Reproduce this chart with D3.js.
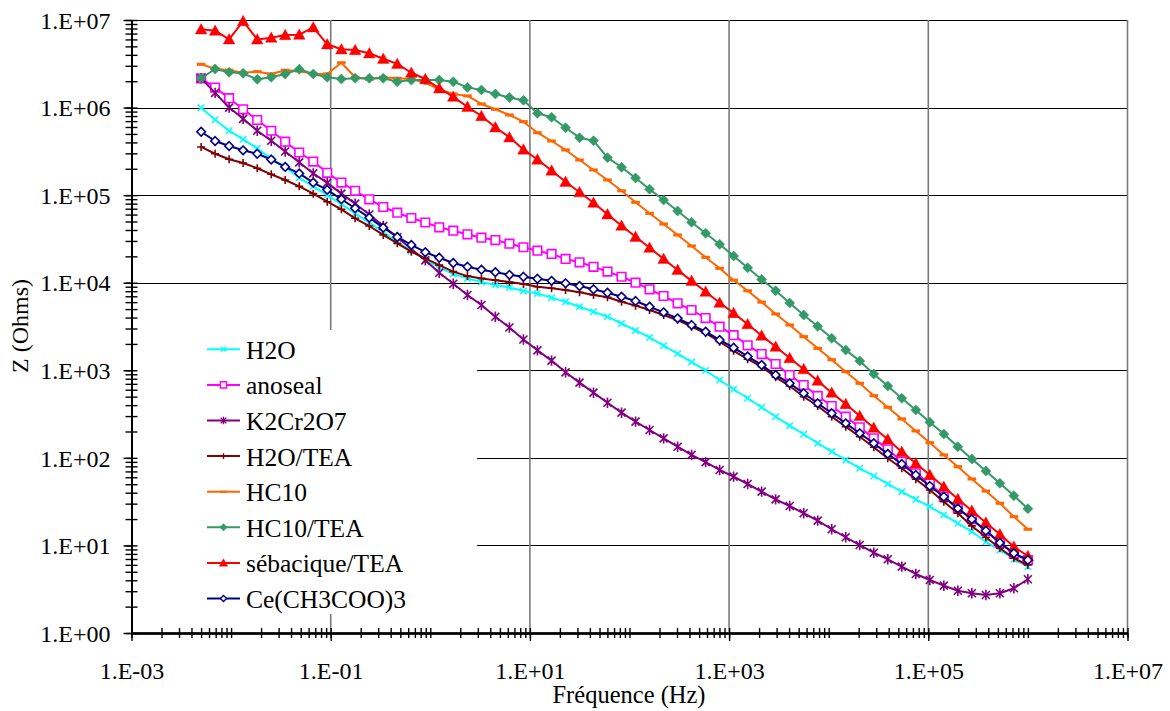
<!DOCTYPE html>
<html><head><meta charset="utf-8">
<script src="https://cdn.jsdelivr.net/npm/d3@7"></script>
<style>
body{margin:0;background:#fff}
svg{display:block}
text{font-family:"Liberation Serif","Times New Roman",serif;fill:#000}
</style>
</head><body>
<svg id="chart" width="1170" height="711"></svg>
<script>
// ---------- DATA ----------
const freq = [0.005, 0.00691, 0.00955, 0.0132, 0.0183, 0.0253, 0.0349, 0.0483, 0.0668, 0.0923,
  0.128, 0.176, 0.244, 0.337, 0.466, 0.645, 0.891, 1.23, 1.70, 2.36,
  3.26, 4.50, 6.23, 8.61, 11.9, 16.5, 22.8, 31.5, 43.5, 60.1,
  83.2, 115, 159, 220, 304, 420, 581, 803, 1110, 1535,
  2122, 2934, 4057, 5609, 7755, 10722, 14825, 20497, 28340, 39183,
  54175, 74903, 103562, 143187, 197972, 273719, 378449, 523253, 723462, 1000000];

const h2o = [9.94e5, 7.27e5, 5.44e5, 4.34e5, 3.43e5, 2.60e5, 2.10e5, 1.58e5, 1.26e5, 1.00e5,
  7.92e4, 6.17e4, 4.85e4, 3.80e4, 2.92e4, 2.30e4, 1.84e4, 1.49e4, 1.26e4, 1.12e4,
  1.02e4, 9.42e3, 8.82e3, 8.04e3, 7.53e3, 6.75e3, 6.07e3, 5.32e3, 4.67e3, 4.09e3,
  3.42e3, 2.85e3, 2.37e3, 1.91e3, 1.55e3, 1.24e3, 995, 775, 607, 479,
  378, 295, 233, 186, 147, 118, 94.5, 76.0, 62.1, 50.3,
  41.1, 33.6, 27.7, 22.3, 17.9, 14.4, 11.0, 8.87, 6.95, 5.72];

const anoseal = [2.16e6, 1.69e6, 1.28e6, 9.55e5, 7.21e5, 5.44e5, 4.08e5, 3.07e5, 2.42e5, 1.80e5,
  1.39e5, 1.12e5, 8.96e4, 7.32e4, 6.30e4, 5.48e4, 4.87e4, 4.29e4, 3.93e4, 3.57e4,
  3.27e4, 3.07e4, 2.79e4, 2.54e4, 2.32e4, 2.13e4, 1.87e4, 1.71e4, 1.52e4, 1.34e4,
  1.17e4, 1.00e4, 8.41e3, 7.05e3, 5.82e3, 4.88e3, 3.95e3, 3.15e3, 2.52e3, 1.93e3,
  1.53e3, 1.18e3, 883, 679, 509, 391, 295, 223, 167, 125,
  90, 66.6, 51.2, 36.0, 26.5, 19.9, 14.7, 10.7, 7.98, 6.8];

const k2cr2o7 = [2.16e6, 1.47e6, 1.00e6, 7.44e5, 5.44e5, 4.18e5, 3.15e5, 2.37e5, 1.77e5, 1.38e5,
  1.04e5, 7.99e4, 6.01e4, 4.44e4, 3.30e4, 2.43e4, 1.80e4, 1.30e4, 9.74e3, 7.24e3,
  5.57e3, 4.09e3, 3.08e3, 2.25e3, 1.69e3, 1.29e3, 948, 722, 555, 426,
  328, 259, 208, 167, 134, 108, 89.3, 72.7, 61.0, 50.3,
  41.1, 33.6, 28.2, 23.3, 19.2, 15.3, 12.4, 10.1, 8.26, 6.95,
  5.72, 4.72, 4.03, 3.47, 3.04, 2.84, 2.72, 2.84, 3.24, 4.11];

const h2oTea = [3.55e5, 2.97e5, 2.57e5, 2.33e5, 2.03e5, 1.73e5, 1.49e5, 1.26e5, 1.04e5, 8.42e4,
  6.89e4, 5.44e4, 4.44e4, 3.51e4, 2.82e4, 2.26e4, 1.90e4, 1.59e4, 1.34e4, 1.19e4,
  1.12e4, 1.07e4, 1.02e4, 9.67e3, 9.01e3, 8.64e3, 8.26e3, 7.77e3, 7.24e3, 6.81e3,
  6.07e3, 5.47e3, 4.88e3, 4.28e3, 3.75e3, 3.15e3, 2.65e3, 2.12e3, 1.67e3, 1.34e3,
  1.10e3, 832, 662, 499, 391, 295, 227, 174, 132, 98.9,
  76.0, 56.9, 43.0, 31.6, 23.3, 16.7, 12.4, 9.28, 7.13, 5.98];

const hc10 = [3.12e6, 2.78e6, 2.67e6, 2.50e6, 2.57e6, 2.42e6, 2.67e6, 2.62e6, 2.42e6, 2.42e6,
  3.25e6, 2.22e6, 2.10e6, 2.22e6, 2.16e6, 2.12e6, 1.92e6, 1.62e6, 1.43e6, 1.36e6,
  1.10e6, 9.56e5, 8.23e5, 6.90e5, 5.16e5, 4.15e5, 3.28e5, 2.52e5, 1.94e5, 1.49e5,
  1.12e5, 8.28e4, 6.20e4, 4.68e4, 3.51e4, 2.63e4, 1.95e4, 1.46e4, 1.07e4, 8.10e3,
  6.00e3, 4.40e3, 3.29e3, 2.42e3, 1.78e3, 1.32e3, 964, 710, 513, 378,
  278, 203, 149, 108, 79.3, 57.4, 41.8, 30.3, 21.3, 15.3];

const hc10Tea = [2.16e6, 2.76e6, 2.53e6, 2.46e6, 2.10e6, 2.22e6, 2.42e6, 2.74e6, 2.42e6, 2.22e6,
  2.12e6, 2.16e6, 2.16e6, 2.16e6, 1.97e6, 2.06e6, 2.06e6, 2.06e6, 1.97e6, 1.70e6,
  1.59e6, 1.43e6, 1.30e6, 1.21e6, 8.60e5, 7.76e5, 5.89e5, 4.53e5, 4.19e5, 2.68e5,
  2.08e5, 1.57e5, 1.17e5, 8.80e4, 6.59e4, 4.90e4, 3.67e4, 2.75e4, 2.02e4, 1.48e4,
  1.09e4, 8.10e3, 5.87e3, 4.28e3, 3.18e3, 2.32e3, 1.70e3, 1.28e3, 907, 662,
  479, 352, 255, 187, 134, 97, 70.8, 51.2, 37.0, 26.3];

const sebacique = [7.83e6, 7.55e6, 6.02e6, 9.70e6, 6.00e6, 6.28e6, 6.74e6, 6.79e6, 8.25e6, 5.28e6,
  4.63e6, 4.54e6, 4.17e6, 3.61e6, 3.15e6, 2.50e6, 2.12e6, 1.66e6, 1.33e6, 1.02e6,
  8.01e5, 5.95e5, 4.58e5, 3.32e5, 2.55e5, 1.91e5, 1.42e5, 1.08e5, 8.20e4, 6.04e4,
  4.48e4, 3.35e4, 2.51e4, 1.87e4, 1.40e4, 1.05e4, 7.90e3, 5.91e3, 4.51e3, 3.36e3,
  2.49e3, 1.86e3, 1.38e3, 1.03e3, 760, 555, 412, 301, 221, 163,
  117, 86.6, 63.7, 46.8, 33.9, 24.9, 18.2, 13.4, 9.67, 7.57];

const ceAcetate = [5.30e5, 4.15e5, 3.64e5, 3.25e5, 2.97e5, 2.55e5, 2.10e5, 1.77e5, 1.39e5, 1.15e5,
  8.97e4, 7.08e4, 5.53e4, 4.25e4, 3.33e4, 2.70e4, 2.23e4, 1.93e4, 1.68e4, 1.52e4,
  1.41e4, 1.32e4, 1.23e4, 1.17e4, 1.11e4, 1.05e4, 9.85e3, 9.18e3, 8.41e3, 7.69e3,
  6.92e3, 6.18e3, 5.32e3, 4.59e3, 3.92e3, 3.29e3, 2.76e3, 2.22e3, 1.81e3, 1.44e3,
  1.15e3, 884, 710, 546, 420, 323, 248, 191, 147, 111,
  85.1, 63.7, 47.7, 36.0, 26.5, 19.9, 14.7, 10.7, 8.13, 6.82];

const seriesNames = ["H2O", "anoseal", "K2Cr2O7", "H2O/TEA", "HC10", "HC10/TEA", "sébacique/TEA", "Ce(CH3COO)3"];
const xTickValues = [1e-3, 1e-1, 1e1, 1e3, 1e5, 1e7];
const xTickLabels = ["1.E-03", "1.E-01", "1.E+01", "1.E+03", "1.E+05", "1.E+07"];
const yTickValues = [1e0, 1e1, 1e2, 1e3, 1e4, 1e5, 1e6, 1e7];
const yTickLabels = ["1.E+00", "1.E+01", "1.E+02", "1.E+03", "1.E+04", "1.E+05", "1.E+06", "1.E+07"];
const xTitle = "Fréquence (Hz)";
const yTitle = "Z (Ohms)";

// ---------- STYLES ----------
const seriesValues = [h2o, anoseal, k2cr2o7, h2oTea, hc10, hc10Tea, sebacique, ceAcetate];
const styles = [
  {color:"#00FFFF", marker:"x",        s:3.2, fill:"none",    sw:1.5},
  {color:"#FF00FF", marker:"square",   s:4.3, fill:"#FFFFFF", sw:1.6},
  {color:"#800080", marker:"star",     s:4.0, fill:"none",    sw:1.6},
  {color:"#800000", marker:"plus",     s:4.0, fill:"none",    sw:1.6},
  {color:"#FF6600", marker:"dash",     s:4.3, fill:"#FF6600", sw:0},
  {color:"#339966", marker:"diamond",  s:5.0, fill:"#339966", sw:0.6},
  {color:"#FF0000", marker:"triangle", s:5.8, fill:"#FF0000", sw:0.4},
  {color:"#000080", marker:"diamond",  s:4.3, fill:"#FFFFFF", sw:1.6}
];
const markerPath = {
  x: s => `M${-s},${-s}L${s},${s}M${-s},${s}L${s},${-s}`,
  square: s => `M${-s},${-s}H${s}V${s}H${-s}Z`,
  star: s => `M${-s},${-s}L${s},${s}M${-s},${s}L${s},${-s}M0,${-s*1.3}V${s*1.3}`,
  plus: s => `M${-s},0H${s}M0,${-s}V${s}`,
  dash: s => `M${-s},${-s*0.36}H${s}V${s*0.36}H${-s}Z`,
  diamond: s => `M0,${-s}L${s},0L0,${s}L${-s},0Z`,
  triangle: s => `M0,${-s}L${s},${s*0.8}L${-s},${s*0.8}Z`
};

// ---------- CHART ----------
const svg = d3.select("#chart");
const x = d3.scaleLog().domain([1e-3, 1e7]).range([131.5, 1127.5]);
const y = d3.scaleLog().domain([1, 1e7]).range([633, 20]);
const X0 = x.range()[0], X1 = x.range()[1], Y0 = y.range()[0], Y1 = y.range()[1];

// grid
const grid = svg.append("g");
grid.selectAll("line.h").data(yTickValues.slice(1)).join("line")
  .attr("x1", X0).attr("x2", X1)
  .attr("y1", d => Math.round(y(d)) + 0.5).attr("y2", d => Math.round(y(d)) + 0.5)
  .attr("stroke", "#000").attr("stroke-width", 1);
grid.selectAll("line.v").data(xTickValues.slice(1)).join("line")
  .attr("x1", d => x(d)).attr("x2", d => x(d))
  .attr("y1", Y1).attr("y2", Y0)
  .attr("stroke", "#7a7a7a").attr("stroke-width", 1.6);

// legend background (covers grid)
svg.append("rect").attr("x", X0 + 2).attr("y", 330).attr("width", 477 - X0 - 2).attr("height", 284)
  .attr("fill", "#fff");

// minor ticks: every 1..9 x 10^n
const minorX = x.ticks(40).filter(d => d >= 1e-3 && d <= 1e7);
const minorY = y.ticks(40).filter(d => d >= 1 && d <= 1e7);

const gxDown = svg.append("g").attr("transform", `translate(0,${Y0})`)
  .call(d3.axisBottom(x).tickValues(minorX).tickSizeInner(5).tickSizeOuter(0).tickFormat(""));
const gxUp = svg.append("g").attr("transform", `translate(0,${Y0})`)
  .call(d3.axisTop(x).tickValues(minorX).tickSizeInner(5).tickSizeOuter(0).tickFormat(""));
const gxMajor = svg.append("g").attr("transform", `translate(0,${Y0})`)
  .call(d3.axisBottom(x).tickValues(xTickValues).tickSizeInner(8).tickSizeOuter(0)
    .tickFormat((d, i) => xTickLabels[i]));
gxMajor.selectAll("text").attr("y", 46).attr("dy", 0)
  .style("font-size", "24px").style("font-family", '"Liberation Serif","Times New Roman",serif');

const gyLeft = svg.append("g").attr("transform", `translate(${X0},0)`)
  .call(d3.axisLeft(y).tickValues(minorY).tickSizeInner(6).tickSizeOuter(0).tickFormat(""));
const gyRight = svg.append("g").attr("transform", `translate(${X0},0)`)
  .call(d3.axisRight(y).tickValues(minorY).tickSizeInner(6).tickSizeOuter(0).tickFormat(""));
const gyMajor = svg.append("g").attr("transform", `translate(${X0},0)`)
  .call(d3.axisLeft(y).tickValues(yTickValues).tickSizeInner(8).tickSizeOuter(0)
    .tickFormat((d, i) => yTickLabels[i]));
gyMajor.selectAll("text").attr("x", -21).attr("dy", "0.34em")
  .style("font-size", "24px").style("font-family", '"Liberation Serif","Times New Roman",serif');

[gxDown, gxUp, gxMajor, gyLeft, gyRight, gyMajor].forEach(g => {
  g.selectAll(".tick line").attr("stroke", "#000").attr("stroke-width", 1.4);
  g.select(".domain").attr("stroke", "#000").attr("stroke-width", 2);
});

// series
const line = d3.line().x(d => x(d.f)).y(d => y(d.z));
seriesValues.forEach((vals, k) => {
  const st = styles[k];
  const pts = vals.map((z, i) => ({f: freq[i], z}));
  const g = svg.append("g");
  g.append("path").datum(pts).attr("d", line)
    .attr("fill", "none").attr("stroke", st.color).attr("stroke-width", 2)
    .attr("stroke-linejoin", "round");
  g.selectAll("path.m").data(pts).join("path").attr("class", "m")
    .attr("transform", d => `translate(${x(d.f)},${y(d.z)})`)
    .attr("d", markerPath[st.marker](st.s))
    .attr("fill", st.fill)
    .attr("stroke", st.sw > 0 ? st.color : "none")
    .attr("stroke-width", st.sw);
});

// legend
const leg = svg.append("g");
seriesNames.forEach((name, k) => {
  const st = styles[k];
  const ly = 349.3 + k * 35.6;
  leg.append("line").attr("x1", 207).attr("x2", 240).attr("y1", ly).attr("y2", ly)
    .attr("stroke", st.color).attr("stroke-width", 2);
  leg.append("path").attr("transform", `translate(223.5,${ly})`)
    .attr("d", markerPath[st.marker](st.s * 0.72))
    .attr("fill", st.fill).attr("stroke", st.sw > 0 ? st.color : "none").attr("stroke-width", Math.min(st.sw, 1.4));
  leg.append("text").attr("x", 246).attr("y", ly + 9.5).style("font-size", "25.5px").text(name);
});

// axis titles
svg.append("text").attr("x", 629).attr("y", 703).attr("text-anchor", "middle")
  .style("font-size", "24.5px").text(xTitle);
svg.append("text").attr("transform", "translate(28,326) rotate(-90)").attr("text-anchor", "middle")
  .style("font-size", "24px").text(yTitle);
</script>
</body></html>
